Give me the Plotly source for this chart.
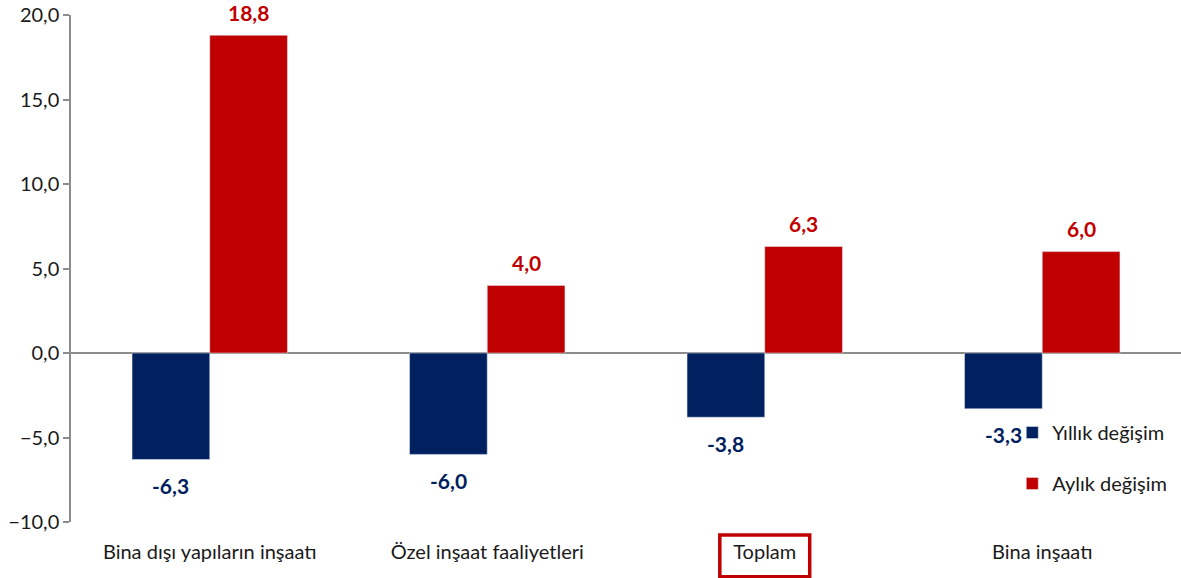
import plotly.graph_objects as go

categories = ["Bina dışı yapıların inşaatı", "Özel inşaat faaliyetleri", "Toplam", "Bina inşaatı"]
yillik = [-6.3, -6.0, -3.8, -3.3]
aylik = [18.8, 4.0, 6.3, 6.0]
yticks = [-10, -5, 0, 5, 10, 15, 20]

BLUE = "#002060"
RED = "#C00000"
FONT = "Lato"
FS = 20

def fmt(v):
    return f"{v:.1f}".replace(".", ",")

fig = go.Figure()
fig.add_trace(go.Bar(x=categories, y=yillik, name="Yıllık değişim", marker_color=BLUE,
                     legendgroup="a"))
fig.add_trace(go.Bar(x=categories, y=aylik, name="Aylık değişim", marker_color=RED,
                     legendgroup="b"))

for i, c in enumerate(categories):
    fig.add_annotation(x=c, y=yillik[i], xref="x", yref="y", text=f"<b>{fmt(yillik[i])}</b>",
                       showarrow=False, xshift=-39, yshift=-26, yanchor="middle",
                       font=dict(family=FONT, size=21, color=BLUE))
    fig.add_annotation(x=c, y=aylik[i], xref="x", yref="y", text=f"<b>{fmt(aylik[i])}</b>",
                       showarrow=False, xshift=39, yshift=23, yanchor="middle",
                       font=dict(family=FONT, size=21, color=RED))

# box around "Toplam"
fig.add_shape(type="rect", xref="x", yref="paper", x0=1.838, x1=2.162, y0=-0.0256, y1=-0.108,
              line=dict(color=RED, width=3.5), fillcolor="rgba(0,0,0,0)")

fig.update_layout(
    width=1181, height=578,
    margin=dict(l=71, r=0, t=15, b=56),
    paper_bgcolor="white", plot_bgcolor="white",
    barmode="group", bargap=0.44, bargroupgap=0,
    separators=",.",
    font=dict(family=FONT, size=FS, color="#1a1a1a"),
    showlegend=True,
    legend=dict(x=0.848, y=0.215, xanchor="left", yanchor="top", tracegroupgap=22,
                font=dict(family=FONT, size=FS, color="#1a1a1a"), bgcolor="rgba(0,0,0,0)",
                itemwidth=30),
    xaxis=dict(showline=False, showgrid=False, ticks="", tickfont=dict(size=FS),
               automargin=False, ticklabelstandoff=16),
    yaxis=dict(range=[-10, 20], tickvals=yticks, tickformat=".1f", showgrid=False,
               showline=True, linecolor="#8c8c8c", linewidth=1.5, ticks="outside",
               ticklen=6, tickcolor="#8c8c8c", tickwidth=1.5,
               zeroline=True, zerolinecolor="#8c8c8c", zerolinewidth=2,
               tickfont=dict(size=FS), automargin=False),
)

fig.write_html(
    "out.html",
    config={"displayModeBar": False},
    post_script="document.body.style.margin='0';document.body.style.overflow='hidden';",
)
